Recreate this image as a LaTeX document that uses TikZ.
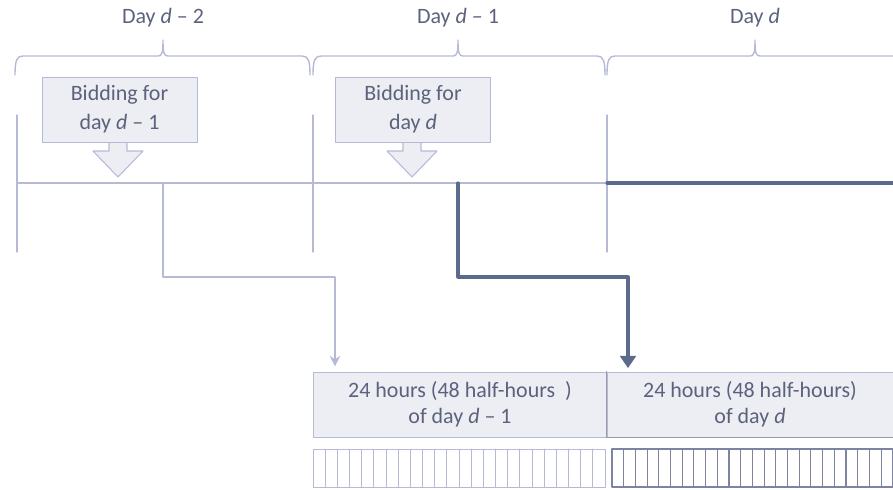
\documentclass[tikz,border=0pt]{standalone}
\usepackage{fontspec}
\setmainfont{Carlito}
\usepackage{tikz}
\usetikzlibrary{arrows.meta}
\definecolor{lightline}{RGB}{182,186,214}
\definecolor{darkline}{RGB}{92,106,140}
\definecolor{textgray}{RGB}{92,98,124}
\definecolor{boxgray}{RGB}{236,238,244}
\definecolor{edgegray}{RGB}{150,154,170}
\definecolor{cellline}{RGB}{125,132,162}

\begin{document}
\begin{tikzpicture}[line cap=round,line join=round, x=0.02cm,y=-0.02cm,
  font=\fontsize{12.5}{16.5}\selectfont, text=textgray,
  lightpen/.style={color=lightline, line width=0.8pt},
  darkpen/.style={color=darkline, line width=1.8pt},
  bidbox/.style={draw=lightline, fill=boxgray, minimum width=3.1cm, minimum height=1.3cm, align=center},
  bidarrow/.style={draw=lightline, fill=boxgray, line width=0.6pt},
  hourbox/.style={draw=lightline, fill=boxgray, minimum height=1.3cm, align=center, font=\fontsize{12.5}{15}\selectfont}]
\useasboundingbox (0,0) rectangle (893,490);
\clip (0,0) rectangle (893,490);
% the three days (left end, tip, right end)
\foreach \xa/\xm/\xb in {15/163/310, 313/458/605, 607/755/903}
  \draw [lightpen] (\xa,75) .. controls (\xa,60) and (\xa+2,56) .. (\xa+8,56) -- (\xm-5,56)
    .. controls (\xm-1,56) and (\xm,53) .. (\xm,40) .. controls (\xm,53) and (\xm+1,56) .. (\xm+5,56)
    -- (\xb-8,56) .. controls (\xb-2,56) and (\xb,60) .. (\xb,75);
\node (dayA) at (163,18) {Day \textit{d} -- 2};
\node (dayB) at (458,18) {Day \textit{d} -- 1};
\node (dayC) at (755,18) {Day \textit{d}};
% time line
\coordinate (t0) at (17,183);
\coordinate (t2) at (607,183);
\coordinate (tEnd) at (893,183);
\foreach \x in {17,313,607}
  \draw [lightpen] (\x,115) -- (\x,252);
\draw [lightpen] (t0) -- (t2);
\draw [darkpen] (t2) -- (tEnd);
% bidding
\draw [bidarrow] (118,142) -- ++(-9,0) -- ++(0,9) -- ++(-16,0) -- ++(25,26) -- ++(25,-26) -- ++(-16,0) -- ++(0,-9) -- cycle;
\draw [bidarrow] (412,142) -- ++(-9,0) -- ++(0,9) -- ++(-16,0) -- ++(25,26) -- ++(25,-26) -- ++(-16,0) -- ++(0,-9) -- cycle;
\node [bidbox] (bidA) at (119.5,109.5) {Bidding for\\day \textit{d} -- 1};
\node [bidbox] (bidB) at (413,109.5) {Bidding for\\day \textit{d}};
% delivery days
\node [hourbox, minimum width=5.88cm] (hrsA) at (460,404.5) {24 hours (48 half-hours~~)\\of day \textit{d} -- 1};
\node [hourbox, minimum width=5.72cm] (hrsB) at (750,404.5) {24 hours (48 half-hours)\\of day \textit{d}};
\draw [color=edgegray, line width=0.8pt] (hrsB.north west) -- (hrsB.south west) -- (hrsB.south east);
% half-hour cells
\draw [lightpen, line width=0.5pt] (313,449) rectangle (605,487);
\foreach \i in {1,...,23}
  \draw [lightpen, line width=0.5pt] ({313+\i*12.17},449) -- ++(0,38);
\draw [color=cellline, line width=0.7pt] (612,449) rectangle (893,487);
\foreach \i in {1,...,23}
  \draw [color=cellline, line width=0.6pt] ({612+\i*11.7},449) -- ++(0,38);
% connectors
\coordinate (srcA) at (163,183);
\coordinate (bendA) at (335,277);
\coordinate (srcB) at (458,183);
\coordinate (bendB) at (628,277);
\draw [lightpen, -{Stealth[length=6pt, width=6pt]}, shorten >=3pt] (srcA) |- (bendA) -- (bendA |- hrsA.north);
\draw [darkpen, -{Triangle[length=7pt, width=9pt]}, shorten >=2pt] (srcB) |- (bendB) -- (bendB |- hrsB.north);
\end{tikzpicture}
\end{document}
